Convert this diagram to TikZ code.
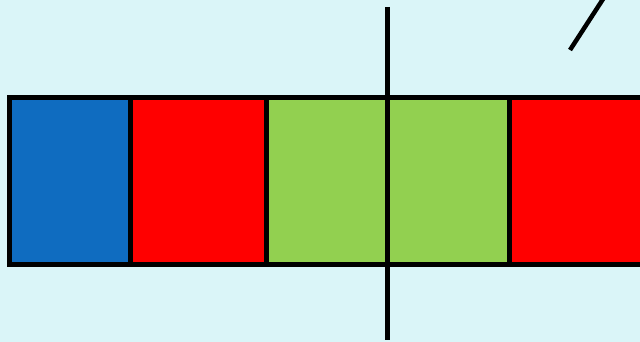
\documentclass[tikz,border=0pt]{standalone}
\usepackage{xcolor}
\usetikzlibrary{positioning}

\definecolor{bgcyan}{RGB}{218,245,248}
\definecolor{cellblue}{RGB}{15,108,192}
\definecolor{cellred}{RGB}{255,0,0}
\definecolor{cellgreen}{RGB}{146,208,80}

\begin{document}
\begin{tikzpicture}[
    x=1pt, y=-1pt,
    cell/.style={rectangle, draw=black, line width=5pt, minimum height=166.5pt, inner sep=0pt, outer sep=0pt},
    stroke/.style={black, line width=5pt},
]

% Background
\useasboundingbox (0,0) rectangle (640,342);
\fill[bgcyan] (0,0) rectangle (640,342);
\clip (0,0) rectangle (640,342);

% Row of cells
\node[cell, fill=cellblue, minimum width=121pt, anchor=north west] (blue) at (9.5,97.5) {};
\node[cell, fill=cellred, minimum width=136pt, right=0pt of blue] (red) {};
\node[cell, fill=cellgreen, minimum width=243pt, right=0pt of red] (green) {};
\node[cell, fill=cellred, minimum width=150pt, right=0pt of green] (redright) {};

% Cut line
\coordinate (cuttop) at (387.5,7);
\coordinate (cutbottom) at (387.5,340);
\draw[stroke] (cuttop) -- (cutbottom);

% Slash
\coordinate (slashlow) at (570,50);
\coordinate (slashhigh) at (605,-4);
\draw[stroke, line width=4.5pt] (slashlow) -- (slashhigh);

\end{tikzpicture}
\end{document}
